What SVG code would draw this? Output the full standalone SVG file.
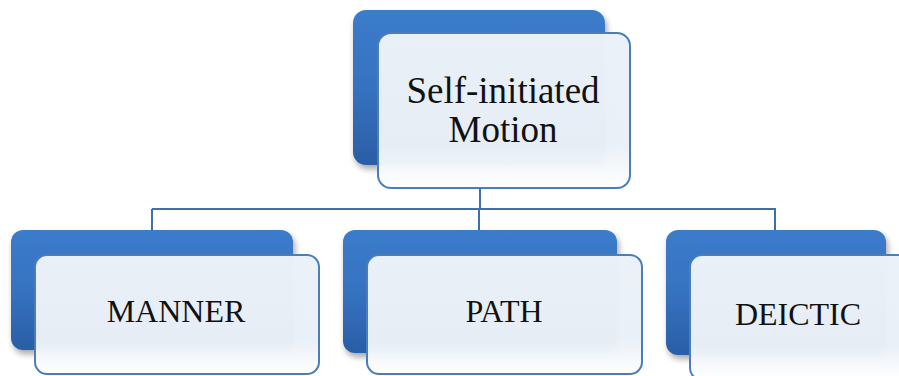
<svg xmlns="http://www.w3.org/2000/svg" width="899" height="376" viewBox="0 0 899 376">
  <defs>
    <linearGradient id="backFill" x1="0" y1="0" x2="0" y2="1">
      <stop offset="0" stop-color="#3B7CCB"/>
      <stop offset="0.5" stop-color="#3672C0"/>
      <stop offset="1" stop-color="#2A5EA6"/>
    </linearGradient>
    <linearGradient id="frontFill" x1="0" y1="0" x2="0" y2="1">
      <stop offset="0" stop-color="#EBF1F8" stop-opacity="0.99"/>
      <stop offset="0.72" stop-color="#EAF0F7" stop-opacity="0.98"/>
      <stop offset="1" stop-color="#FFFFFF" stop-opacity="0.97"/>
    </linearGradient>
    <filter id="shadow" x="-10%" y="-10%" width="125%" height="130%">
      <feGaussianBlur in="SourceAlpha" stdDeviation="3"/>
      <feOffset dx="2" dy="4"/>
      <feComponentTransfer><feFuncA type="linear" slope="0.35"/></feComponentTransfer>
      <feMerge><feMergeNode/><feMergeNode in="SourceGraphic"/></feMerge>
    </filter>
  </defs>
  <style>
    .back { fill: url(#backFill); filter: url(#shadow); }
    .front { fill: url(#frontFill); stroke: #4A7EBB; stroke-width: 2; }
    .link { fill: none; stroke: #3F6FAE; stroke-width: 2; }
    .label { font-family: "Liberation Serif", "Times New Roman", serif; fill: #111; text-anchor: middle; }
  </style>
  <rect width="899" height="376" fill="#FFFFFF"/>

  <g id="connectors">
    <path class="link" d="M480 188 V209 M152 209 H776 M152 209 V232 M479 209 V232 M775 209 V232"/>
  </g>

  <g id="node-root">
    <rect class="back" x="353" y="10" width="252" height="155" rx="13"/>
    <rect class="front" x="378" y="33" width="252" height="155" rx="13"/>
    <text class="label" x="503" y="103" font-size="37">Self-initiated</text>
    <text class="label" x="503" y="142" font-size="37">Motion</text>
  </g>

  <g id="node-manner">
    <rect class="back" x="11" y="230" width="282" height="120" rx="12"/>
    <rect class="front" x="35" y="255" width="284" height="119" rx="12"/>
    <text class="label" x="176" y="322" font-size="32">MANNER</text>
  </g>

  <g id="node-path">
    <rect class="back" x="343" y="230" width="274" height="123" rx="12"/>
    <rect class="front" x="367" y="255" width="275" height="119" rx="12"/>
    <text class="label" x="504" y="322" font-size="32">PATH</text>
  </g>

  <g id="node-deictic">
    <rect class="back" x="666" y="230" width="220" height="125" rx="12"/>
    <rect class="front" x="690" y="255" width="240" height="125" rx="12"/>
    <text class="label" x="798" y="325" font-size="32">DEICTIC</text>
  </g>
</svg>
